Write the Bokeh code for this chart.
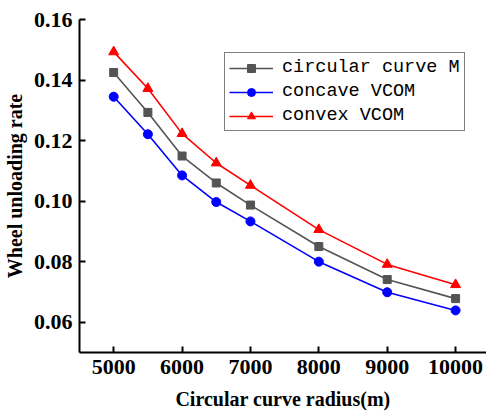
from bokeh.plotting import figure
from bokeh.models import Range1d, FixedTicker, Legend, LegendItem
from bokeh.embed import file_html
from bokeh.resources import INLINE

radius = [5000, 5500, 6000, 6500, 7000, 8000, 9000, 10000]
circular_M = [0.1425, 0.1293, 0.1149, 0.1060, 0.0987, 0.0850, 0.0741, 0.0678]
concave_VCOM = [0.1345, 0.1221, 0.1085, 0.0997, 0.0933, 0.0800, 0.0699, 0.0639]
convex_VCOM = [0.1493, 0.1372, 0.1223, 0.1126, 0.1052, 0.0906, 0.0791, 0.0724]
x_ticks = [5000, 6000, 7000, 8000, 9000, 10000]
y_ticks = [0.06, 0.08, 0.10, 0.12, 0.14, 0.16]
y_labels = {0.06: "0.06", 0.08: "0.08", 0.10: "0.10", 0.12: "0.12", 0.14: "0.14", 0.16: "0.16"}

p = figure(width=486, height=417, output_backend="svg", toolbar_location=None,
           x_range=Range1d(4500, 10452), y_range=Range1d(0.05, 0.16))
p.min_border_left = 78
p.min_border_right = 0
p.min_border_top = 19
p.min_border_bottom = 65
p.outline_line_color = None
p.grid.visible = False
p.background_fill_color = "white"

font = "Liberation Serif"
for ax in (p.xaxis[0], p.yaxis[0]):
    ax.axis_line_width = 2
    ax.axis_line_color = "black"
    ax.major_tick_line_width = 2
    ax.major_tick_in = 6
    ax.major_tick_out = 0
    ax.minor_tick_line_color = None
    ax.major_label_text_font = font
    ax.major_label_text_font_style = "bold"
    ax.major_label_text_font_size = "22px"
    ax.major_label_text_color = "black"
    ax.axis_label_text_font = font
    ax.axis_label_text_font_style = "bold"
    ax.axis_label_text_font_size = "20px"
    ax.axis_label_text_color = "black"

p.xaxis[0].ticker = FixedTicker(ticks=x_ticks)
p.yaxis[0].ticker = FixedTicker(ticks=y_ticks)
p.yaxis[0].major_label_overrides = y_labels
p.xaxis[0].major_label_standoff = 7
p.yaxis[0].major_label_standoff = 7
p.xaxis[0].axis_label = "Circular curve radius(m)"
p.yaxis[0].axis_label = "Wheel unloading rate"
p.xaxis[0].axis_label_standoff = 11
p.yaxis[0].axis_label_standoff = 5

gray = "#545454"
l1 = p.line(radius, circular_M, line_color=gray, line_width=1.6)
s1 = p.scatter(radius, circular_M, marker="square", size=8, fill_color=gray, line_color=gray)
l2 = p.line(radius, concave_VCOM, line_color="#0000FF", line_width=1.6)
s2 = p.scatter(radius, concave_VCOM, marker="circle", size=9, fill_color="#0000FF", line_color="#0000FF")
l3 = p.line(radius, convex_VCOM, line_color="#FF0000", line_width=1.6)
s3 = p.scatter(radius, convex_VCOM, marker="triangle", size=10, fill_color="#FF0000", line_color="#FF0000")

legend = Legend(items=[
    LegendItem(label="circular curve M", renderers=[l1, s1]),
    LegendItem(label="concave VCOM", renderers=[l2, s2]),
    LegendItem(label="convex VCOM", renderers=[l3, s3]),
], location=(145, 221))
legend.label_text_font = "Liberation Mono"
legend.label_text_font_size = "18.5px"
legend.label_text_color = "black"
legend.glyph_width = 44
legend.glyph_height = 20
legend.label_height = 20
legend.label_standoff = 9
legend.spacing = 3
legend.padding = 4
legend.margin = 0
legend.border_line_color = "black"
legend.border_line_width = 1.5
legend.background_fill_alpha = 1
p.add_layout(legend, "center")

open("out.html", "w").write(file_html(p, INLINE))
